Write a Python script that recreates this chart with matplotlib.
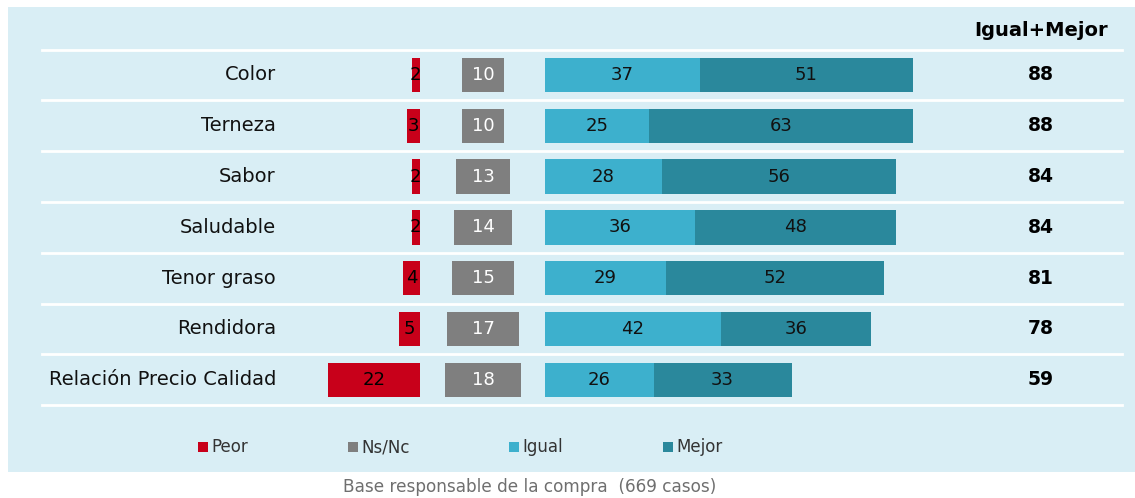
import matplotlib
matplotlib.use('Agg')
import matplotlib.pyplot as plt
from matplotlib.patches import Rectangle

# data
categories = ["Color", "Terneza", "Sabor", "Saludable", "Tenor graso", "Rendidora",
              "Relación Precio Calidad"]
peor = [2, 3, 2, 2, 4, 5, 22]
nsnc = [10, 10, 13, 14, 15, 17, 18]
igual = [37, 25, 28, 36, 29, 42, 26]
mejor = [51, 63, 56, 48, 52, 36, 33]
total = [88, 88, 84, 84, 81, 78, 59]
legend_labels = ["Peor", "Ns/Nc", "Igual", "Mejor"]

c_peor = "#c8001a"
c_nsnc = "#7f7f7f"
c_igual = "#3db0cd"
c_mejor = "#2a889c"
bg = "#d9eef5"

W, H = 1135, 498
PX = 4.18          # pixels per percentage unit
X0 = 420           # pixel x of the zero line (right edge of Peor)
ROW0, ROWH = 75, 50.8

fig = plt.figure(figsize=(W / 100, H / 100), dpi=100)

# background panel
fig.patches.append(Rectangle((7.5 / W, 1 - 471.5 / H), 1, (471.5 - 7) / H,
                             transform=fig.transFigure, facecolor=bg, edgecolor='none', zorder=-5))

ax = fig.add_axes([0, 0, 1, 1], zorder=1)
ax.set_xlim(-X0 / PX, (W - X0) / PX)
ax.set_ylim((H - ROW0) / ROWH, -ROW0 / ROWH)
ax.axis('off')

def px(x):
    return (x - X0) / PX

def py(y):
    return (y - ROW0) / ROWH

n = len(categories)
ys = list(range(n))
h = 0.68
fs = 13

# separator lines
for k in range(n + 1):
    ax.plot([px(42), px(1122)], [k - 0.5, k - 0.5], color='white', lw=2, zorder=1)

ns_center = px(483)
ig_start = px(545)

ax.barh(ys, peor, left=[-p for p in peor], height=h, color=c_peor, zorder=2)
ax.barh(ys, nsnc, left=[ns_center - v / 2 for v in nsnc], height=h, color=c_nsnc, zorder=2)
ax.barh(ys, igual, left=ig_start, height=h, color=c_igual, zorder=2)
ax.barh(ys, mejor, left=[ig_start + v for v in igual], height=h, color=c_mejor, zorder=2)

for i in ys:
    ax.text(px(276), i, categories[i], ha='right', va='center', fontsize=14, color='#111111')
    ax.text(-peor[i] / 2, i, str(peor[i]), ha='center', va='center', fontsize=fs, color='black', zorder=3)
    ax.text(ns_center, i, str(nsnc[i]), ha='center', va='center', fontsize=fs, color='white', zorder=3)
    ax.text(ig_start + igual[i] / 2, i, str(igual[i]), ha='center', va='center', fontsize=fs,
            color='#111111', zorder=3)
    ax.text(ig_start + igual[i] + mejor[i] / 2, i, str(mejor[i]), ha='center', va='center',
            fontsize=fs, color='#111111', zorder=3)
    ax.text(px(1041), i, str(total[i]), ha='center', va='center', fontsize=13.5,
            fontweight='bold', color='black')

ax.text(px(1041), py(30), "Igual+Mejor", ha='center', va='center', fontsize=14,
        fontweight='bold', color='black')

# legend
leg_x = [198, 348, 509, 663]
for lx, lab, col in zip(leg_x, legend_labels, [c_peor, c_nsnc, c_igual, c_mejor]):
    fig.patches.append(Rectangle((lx / W, 1 - 452 / H), 10 / W, 10 / H,
                                 transform=fig.transFigure, facecolor=col, edgecolor='none'))
    fig.text((lx + 13) / W, 1 - 447 / H, lab, ha='left', va='center', fontsize=12, color='#333333')

fig.text(343 / W, 1 - 487 / H, "Base responsable de la compra  (669 casos)", ha='left',
         va='center', fontsize=12.2, color='#6f6f6f')

fig.savefig("out.png", dpi=100)
